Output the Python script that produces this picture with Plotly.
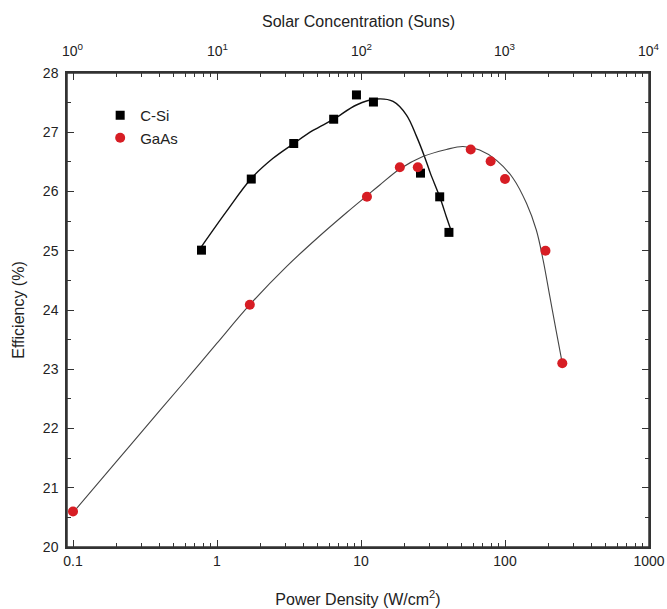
import math
import plotly.graph_objects as go

# ---- data ----
csi_power = [0.78, 1.73, 3.41, 6.46, 9.3, 12.2, 25.9, 35.2, 40.8]
csi_eff = [25.01, 26.21, 26.81, 27.22, 27.63, 27.51, 26.31, 25.91, 25.31]

gaas_power = [0.1, 1.69, 11.0, 18.6, 24.8, 57.8, 79.5, 100, 191, 250]
gaas_eff = [20.6, 24.09, 25.91, 26.41, 26.41, 26.71, 26.51, 26.21, 25.0, 23.1]

# fitted curves
csi_fit_x = [0.78, 1.16, 1.73, 2.45, 3.41, 4.64, 6.46, 9.29, 12.8, 16.7, 20.7, 24.3, 27.7, 30.3, 35.2, 39.2, 42.5]
csi_fit_y = [25.07, 25.66, 26.22, 26.56, 26.81, 27.03, 27.22, 27.46, 27.56, 27.52, 27.29, 26.93, 26.58, 26.31, 25.91, 25.57, 25.32]

gaas_fit_x = [0.1, 0.2, 0.4, 0.65, 1.0, 1.69, 3.0, 5.0, 8.0, 11.0, 13.5, 18.6, 26.9, 39.2, 51, 66.7, 87, 114, 141, 165, 184, 204, 227, 250]
gaas_fit_y = [20.58, 21.44, 22.30, 22.90, 23.44, 24.09, 24.72, 25.22, 25.65, 25.93, 26.11, 26.38, 26.59, 26.71, 26.76, 26.70, 26.53, 26.22, 25.80, 25.35, 24.84, 24.25, 23.64, 23.10]

x_decades = [0.1, 1, 10, 100, 1000]
x_ticktext = ["0.1", "1", "10", "100", "1000"]
top_decades = [1, 10, 100, 1000, 10000]          # suns
top_ticktext = ["10<sup>0</sup>", "10<sup>1</sup>", "10<sup>2</sup>", "10<sup>3</sup>", "10<sup>4</sup>"]
y_ticks = [20, 21, 22, 23, 24, 25, 26, 27, 28]
suns_per_wcm2 = 10  # 1 sun = 0.1 W/cm2

x_minor = [m * d for d in x_decades[:-1] for m in range(2, 10)]

FONT = "Liberation Sans, Arial, sans-serif"
TXT = "#222222"
AX = "#333333"

fig = go.Figure()

fig.add_trace(go.Scatter(x=csi_fit_x, y=csi_fit_y, mode="lines", line=dict(color="#111111", width=1.4, shape="spline"),
                         showlegend=False, hoverinfo="skip"))
fig.add_trace(go.Scatter(x=gaas_fit_x, y=gaas_fit_y, mode="lines", line=dict(color="#444444", width=1.1, shape="spline"),
                         showlegend=False, hoverinfo="skip"))
fig.add_trace(go.Scatter(x=csi_power, y=csi_eff, mode="markers", name="C-Si",
                         marker=dict(symbol="square", size=9, color="#000000")))
fig.add_trace(go.Scatter(x=gaas_power, y=gaas_eff, mode="markers", name="GaAs",
                         marker=dict(symbol="circle", size=10, color="#d71d24")))

axis_common = dict(showline=True, linecolor=AX, linewidth=1.5, ticks="inside", tickcolor=AX, tickwidth=1.2,
                   ticklen=7, tickangle=0, mirror="ticks",
                   showgrid=False, zeroline=False, tickfont=dict(family=FONT, size=14, color=TXT))

# top axis (suns) labels, placed on the bottom axis scale
annotations = []
for t, lab in zip(top_decades, top_ticktext):
    annotations.append(dict(x=math.log10(t / suns_per_wcm2), y=1, xref="x", yref="paper", text=lab,
                            showarrow=False, xanchor="center", yanchor="bottom", yshift=12,
                            font=dict(family=FONT, size=14, color=TXT)))
annotations.append(dict(x=0.5, y=1.108, xref="paper", yref="paper", text="Solar Concentration (Suns)",
                        showarrow=False, xanchor="center", yanchor="middle",
                        font=dict(family=FONT, size=16, color=TXT)))

fig.update_layout(
    width=667, height=609,
    margin=dict(l=67, r=18, t=73, b=62, autoexpand=False),
    paper_bgcolor="white", plot_bgcolor="white",
    font=dict(family=FONT, color=TXT),
    xaxis=dict(type="log", range=[-1.0417, 3], tickmode="array", tickvals=x_decades, ticktext=x_ticktext,
               minor=dict(tickmode="array", tickvals=x_minor, ticks="inside", ticklen=4, tickcolor=AX, tickwidth=1.1),
               title=dict(text="Power Density (W/cm<sup>2</sup>)", font=dict(family=FONT, size=16, color=TXT), standoff=26),
               **axis_common),
    yaxis=dict(range=[20, 28], tickmode="array", tickvals=y_ticks,
               minor=dict(dtick=0.5, ticks="inside", ticklen=4, tickcolor=AX, tickwidth=1.1),
               ticklabelstandoff=4,
               title=dict(text="Efficiency (%)", font=dict(family=FONT, size=16, color=TXT), standoff=14),
               **axis_common),
    legend=dict(x=0.057, y=0.945, xanchor="left", yanchor="top", bgcolor="rgba(0,0,0,0)",
                font=dict(family=FONT, size=15, color=TXT), tracegroupgap=0, itemsizing="trace"),
    annotations=annotations,
    shapes=[dict(type="rect", xref="paper", yref="paper", x0=0, x1=1, y0=0, y1=1,
                 line=dict(color=AX, width=1.5), layer="above")],
    showlegend=True,
)

fig.write_html("out.html", config={"displayModeBar": False},
               post_script="document.body.style.margin='0';")
